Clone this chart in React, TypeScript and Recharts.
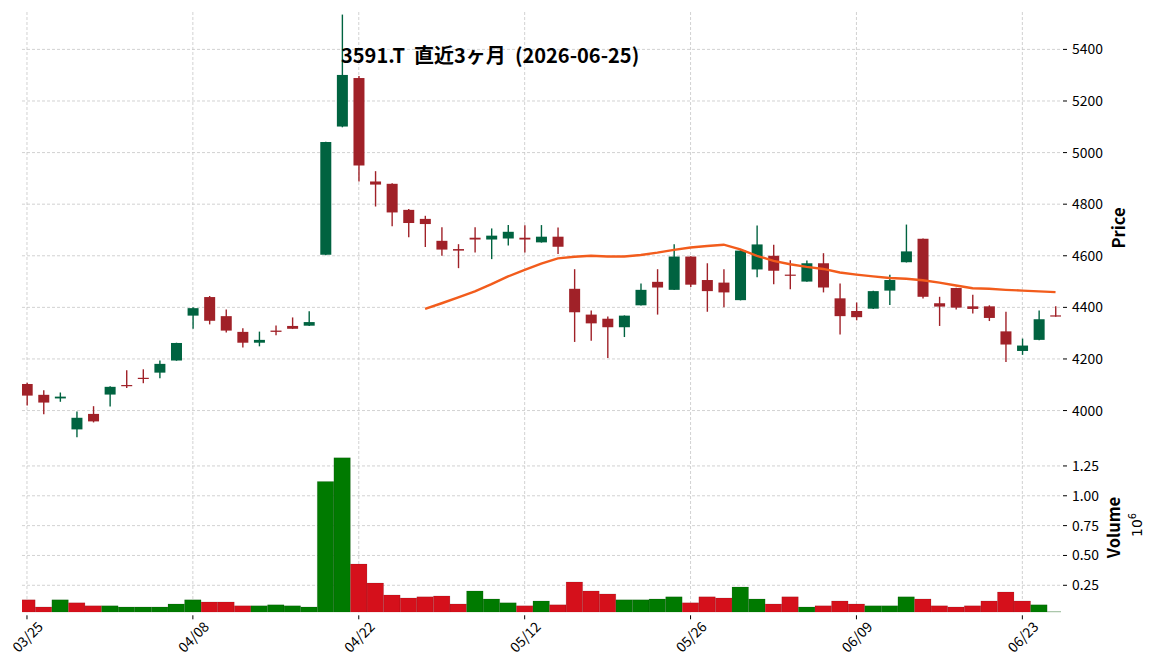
import React from 'react';
import { ComposedChart, Bar, Line, XAxis, YAxis, CartesianGrid, Cell } from 'recharts';

const dates = [
  '03/25', '03/26', '03/27', '03/30', '03/31', '04/01', '04/02', '04/03', '04/06', '04/07',
  '04/08', '04/09', '04/10', '04/13', '04/14', '04/15', '04/16', '04/17', '04/20', '04/21',
  '04/22', '04/23', '04/24', '04/27', '04/28', '04/30', '05/01', '05/07', '05/08', '05/11',
  '05/12', '05/13', '05/14', '05/15', '05/18', '05/19', '05/20', '05/21', '05/22', '05/25',
  '05/26', '05/27', '05/28', '05/29', '06/01', '06/02', '06/03', '06/04', '06/05', '06/08',
  '06/09', '06/10', '06/11', '06/12', '06/15', '06/16', '06/17', '06/18', '06/19', '06/22',
  '06/23', '06/24', '06/25',
];

const opens = [
  4103, 4061, 4047, 3927, 3987, 4062, 4099, 4127, 4147, 4194,
  4368, 4440, 4366, 4305, 4263, 4310, 4328, 4329, 4604, 5101,
  5289, 4888, 4879, 4778, 4743, 4658, 4626, 4670, 4663, 4667,
  4670, 4652, 4674, 4472, 4372, 4356, 4323, 4408, 4499, 4468,
  4597, 4506, 4496, 4428, 4547, 4600, 4527, 4500, 4571, 4435,
  4386, 4395, 4465, 4575, 4666, 4416, 4475, 4404, 4404, 4307,
  4231, 4274, 4369,
];
const highs = [
  4108, 4079, 4070, 3996, 4017, 4094, 4156, 4160, 4194, 4263,
  4400, 4444, 4392, 4319, 4306, 4330, 4361, 4385, 5042, 5535,
  5297, 4928, 4881, 4781, 4755, 4711, 4645, 4711, 4706, 4719,
  4718, 4719, 4710, 4548, 4388, 4365, 4369, 4493, 4548, 4645,
  4598, 4571, 4548, 4622, 4717, 4643, 4583, 4582, 4610, 4493,
  4419, 4464, 4526, 4721, 4667, 4441, 4476, 4449, 4408, 4383,
  4279, 4388, 4404,
];
const lows = [
  4020, 3986, 4034, 3897, 3954, 4016, 4087, 4106, 4125, 4193,
  4317, 4334, 4303, 4244, 4249, 4292, 4316, 4328, 4602, 5098,
  4888, 4791, 4714, 4672, 4634, 4600, 4552, 4613, 4587, 4640,
  4613, 4651, 4607, 4266, 4271, 4204, 4285, 4407, 4372, 4467,
  4479, 4383, 4400, 4427, 4517, 4490, 4470, 4499, 4458, 4295,
  4350, 4394, 4409, 4574, 4434, 4328, 4392, 4376, 4347, 4188,
  4216, 4273, 4364,
];
const closes = [
  4058, 4031, 4054, 3972, 3958, 4092, 4095, 4123, 4181, 4262,
  4397, 4348, 4310, 4263, 4274, 4305, 4317, 4343, 5041, 5301,
  4950, 4876, 4768, 4727, 4723, 4624, 4620, 4663, 4678, 4693,
  4663, 4674, 4635, 4381, 4338, 4323, 4368, 4468, 4477, 4597,
  4488, 4463, 4458, 4620, 4644, 4542, 4523, 4571, 4477, 4366,
  4362, 4463, 4506, 4617, 4441, 4403, 4399, 4394, 4359, 4256,
  4252, 4354, 4365,
];
// volume in units of 10^6
const volumes = [
  0.128, 0.069, 0.128, 0.103, 0.078, 0.078, 0.069, 0.069, 0.069, 0.094,
  0.128, 0.111, 0.111, 0.078, 0.078, 0.086, 0.078, 0.069, 1.119, 1.319,
  0.428, 0.269, 0.169, 0.144, 0.153, 0.161, 0.094, 0.203, 0.136, 0.103,
  0.078, 0.119, 0.086, 0.278, 0.203, 0.178, 0.128, 0.128, 0.136, 0.153,
  0.103, 0.153, 0.144, 0.236, 0.136, 0.094, 0.153, 0.069, 0.078, 0.119,
  0.094, 0.078, 0.078, 0.153, 0.136, 0.078, 0.069, 0.078, 0.119, 0.194,
  0.119, 0.086, 0.028,
];
const ma25 = [
  null, null, null, null, null, null, null, null, null, null,
  null, null, null, null, null, null, null, null, null, null,
  null, null, null, null, 4394, 4416, 4439, 4462, 4490, 4520,
  4545, 4570, 4590, 4596, 4600, 4597, 4597, 4603, 4612, 4623,
  4632, 4638, 4643, 4625, 4600, 4580, 4567, 4557, 4549, 4535,
  4527, 4520, 4514, 4511, 4505, 4496, 4485, 4474, 4472, 4468,
  4465, 4462, 4459,
];

const priceTicks = [4000, 4200, 4400, 4600, 4800, 5000, 5200, 5400];
const volumeTicks = [0.25, 0.5, 0.75, 1.0, 1.25];
const dateTickIndex = [0, 10, 20, 30, 40, 50, 60];

const CANDLE_UP = '#006340';
const CANDLE_DOWN = '#a02128';
const VOL_UP = '#007a00';
const VOL_DOWN = '#d5101b';
const MA_COLOR = '#f25c1c';
const GRID = '#c6c6c6';
const FONT = "'Noto Sans CJK JP', 'Noto Sans', sans-serif";

const data = dates.map((d, i) => ({
  i,
  date: d,
  open: opens[i],
  high: highs[i],
  low: lows[i],
  close: closes[i],
  volume: volumes[i],
  ma: ma25[i],
  volUp: i === 0 ? closes[i] >= opens[i] : closes[i] >= closes[i - 1],
}));

const X_DOMAIN: [number, number] = [-0.3, 62.33];

const Candle = (props: any) => {
  const { x, y, width, height, payload } = props;
  if (x == null || y == null || !payload) return null;
  const { open, close, high, low } = payload;
  const range = high - low;
  const ppu = range > 0 ? height / range : 0;
  const yOf = (v: number) => y + (high - v) * ppu;
  const up = close >= open;
  const color = up ? CANDLE_UP : CANDLE_DOWN;
  const cx = x + width / 2;
  const top = yOf(Math.max(open, close));
  const bot = yOf(Math.min(open, close));
  return (
    <g>
      <line x1={cx} x2={cx} y1={y} y2={y + height} stroke={color} strokeWidth={1.4} />
      <rect x={x} y={top} width={width} height={Math.max(bot - top, 1.2)} fill={color} />
    </g>
  );
};

const PriceTick = (props: any) => {
  const { x, y, payload } = props;
  return (
    <g>
      <line x1={x + 2} x2={x + 6} y1={y} y2={y} stroke="#000" strokeWidth={1} />
      <text x={x + 11} y={y} dy="0.36em" textAnchor="start" fontSize={13.9} fill="#000" fontFamily={FONT}>
        {payload.value}
      </text>
    </g>
  );
};

const VolTick = (props: any) => {
  const { x, y, payload } = props;
  return (
    <g>
      <line x1={x + 2} x2={x + 6} y1={y} y2={y} stroke="#000" strokeWidth={1} />
      <text x={x + 11} y={y} dy="0.36em" textAnchor="start" fontSize={13.9} fill="#000" fontFamily={FONT}>
        {Number(payload.value).toFixed(2)}
      </text>
    </g>
  );
};

const DateTick = (props: any) => {
  const { x, y, payload } = props;
  const cy = y + 24;
  return (
    <g>
      <line x1={x} x2={x} y1={y + 3} y2={y + 7} stroke="#000" strokeWidth={1} />
      <text
        x={x}
        y={cy}
        transform={`rotate(-45 ${x} ${cy})`}
        textAnchor="middle"
        dominantBaseline="central"
        fontSize={13.9}
        fill="#000"
        fontFamily={FONT}
      >
        {dates[payload.value]}
      </text>
    </g>
  );
};

export default function App() {
  return (
    <div
      style={{
        position: 'absolute',
        left: 0,
        top: 0,
        width: 1156,
        height: 670,
        background: '#fff',
        fontFamily: FONT,
        overflow: 'hidden',
      }}
    >
      <div style={{ position: 'absolute', left: 0, top: 0 }}>
        <ComposedChart width={1156} height={441} data={data} margin={{ top: 12, right: 15, left: 22, bottom: 0 }}>
          <CartesianGrid
            stroke={GRID}
            strokeDasharray="3 2"
            strokeWidth={0.8}
            syncWithTicks
            horizontalValues={priceTicks}
            verticalValues={dateTickIndex}
          />
          <XAxis
            type="number"
            dataKey="i"
            domain={X_DOMAIN}
            ticks={dateTickIndex}
            allowDataOverflow
            hide
          />
          <YAxis
            orientation="right"
            type="number"
            domain={[3882, 5545]}
            ticks={priceTicks}
            allowDataOverflow
            width={80}
            axisLine={false}
            tickLine={false}
            tickSize={0}
            tickMargin={0}
            tick={<PriceTick />}
            interval={0}
          />
          <Bar
            dataKey={(d: any) => [d.low, d.high]}
            barSize={11}
            shape={<Candle />}
            isAnimationActive={false}
          />
          <Line
            type="linear"
            dataKey="ma"
            stroke={MA_COLOR}
            strokeWidth={2.4}
            dot={false}
            activeDot={false}
            connectNulls={false}
            isAnimationActive={false}
          />
        </ComposedChart>
      </div>
      <div style={{ position: 'absolute', left: 0, top: 441 }}>
        <ComposedChart width={1156} height={229} data={data} margin={{ top: 0, right: 15, left: 22, bottom: 0 }}>
          <CartesianGrid
            stroke={GRID}
            strokeDasharray="3 2"
            strokeWidth={0.8}
            syncWithTicks
            horizontalValues={volumeTicks}
            verticalValues={dateTickIndex}
          />
          <XAxis
            type="number"
            dataKey="i"
            domain={X_DOMAIN}
            ticks={dateTickIndex}
            allowDataOverflow
            height={57.7}
            axisLine={false}
            tickLine={false}
            tickSize={0}
            tickMargin={0}
            tick={<DateTick />}
            interval={0}
          />
          <YAxis
            orientation="right"
            type="number"
            domain={[0.0237, 1.459]}
            ticks={volumeTicks}
            allowDataOverflow
            width={80}
            axisLine={false}
            tickLine={false}
            tickSize={0}
            tickMargin={0}
            tick={<VolTick />}
            interval={0}
          />
          <Bar dataKey="volume" barSize={16.5} isAnimationActive={false} stroke="rgba(0,0,0,0.22)" strokeWidth={0.5}>
            {data.map((d) => (
              <Cell key={d.i} fill={d.volUp ? VOL_UP : VOL_DOWN} />
            ))}
          </Bar>
        </ComposedChart>
      </div>
      <svg
        width={1156}
        height={670}
        style={{ position: 'absolute', left: 0, top: 0, pointerEvents: 'none' }}
      >
        <text x={341} y={63} fontSize={20} fontWeight={700} fill="#000" fontFamily={FONT} style={{ whiteSpace: 'pre' }}>
          {'3591.T  直近3ヶ月  (2026-06-25)'}
        </text>
        <text
          x={1124.5}
          y={228}
          transform="rotate(-90 1124.5 228)"
          textAnchor="middle"
          fontSize={16.5}
          fontWeight={700}
          fill="#000"
          fontFamily={FONT}
        >
          Price
        </text>
        <text
          x={1119.5}
          y={527.5}
          transform="rotate(-90 1119.5 527.5)"
          textAnchor="middle"
          fontSize={16.5}
          fontWeight={700}
          fill="#000"
          fontFamily={FONT}
        >
          Volume
        </text>
        <text
          x={1142}
          y={525}
          transform="rotate(-90 1142 525)"
          textAnchor="middle"
          fontSize={14}
          fill="#000"
          fontFamily="'DejaVu Sans', sans-serif"
        >
          10
          <tspan fontSize={9.8} dy={-6}>
            6
          </tspan>
        </text>
      </svg>
    </div>
  );
}
